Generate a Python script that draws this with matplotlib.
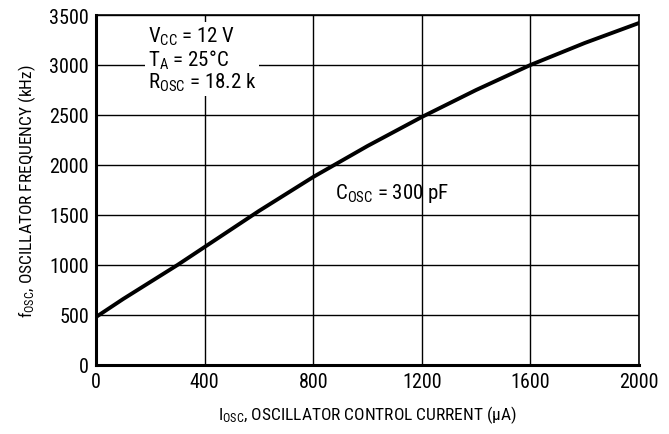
import matplotlib.pyplot as plt
from matplotlib import font_manager

# data
i_osc = [0, 100, 200, 300, 400, 600, 800, 1000, 1200, 1400, 1600, 1800, 2000]
f_osc = [480, 660, 830, 1000, 1180, 1540, 1880, 2190, 2480, 2750, 3000, 3220, 3420]
x_ticks = [0, 400, 800, 1200, 1600, 2000]
y_ticks = [0, 500, 1000, 1500, 2000, 2500, 3000, 3500]

names = {f.name for f in font_manager.fontManager.ttflist}
fam = 'Liberation Sans'
for cand in ['Liberation Sans Narrow', 'Roboto Condensed', 'Arial Narrow']:
    if cand in names:
        fam = cand
        break
plt.rcParams['font.family'] = [fam, 'DejaVu Sans']
plt.rcParams['mathtext.fontset'] = 'custom'
plt.rcParams['mathtext.rm'] = fam

fig = plt.figure(figsize=(6.69, 4.35), dpi=100)
ax = fig.add_axes([96 / 669, 69 / 435, 543 / 669, 350 / 435])

ax.plot(i_osc, f_osc, color='black', lw=2.8, zorder=3)

ax.set_xlim(0, 2000)
ax.set_ylim(0, 3500)
ax.set_xticks(x_ticks)
ax.set_yticks(y_ticks)
ax.grid(True, color='black', lw=1.0)
ax.tick_params(length=0, labelsize=14.5, pad=5)
for s in ax.spines.values():
    s.set_linewidth(1.2)
ax.spines['left'].set_linewidth(2.2)
ax.spines['bottom'].set_linewidth(2.2)

ax.text(190, 3060, '$\\mathrm{V_{CC}}$ = 12 V\n$\\mathrm{T_A}$ = 25°C\n$\\mathrm{R_{OSC}}$ = 18.2 k',
        fontsize=15, va='center', ha='left', linespacing=1.0, zorder=4,
        bbox=dict(facecolor='white', edgecolor='none', pad=2))
ax.text(880, 1720, '$\\mathrm{C_{OSC}}$ = 300 pF', fontsize=15, va='center', ha='left',
        zorder=4)

ax.set_xlabel('$\\mathrm{I_{OSC}}$, OSCILLATOR CONTROL CURRENT (µA)', fontsize=12.5, labelpad=9)
ax.set_ylabel('$\\mathrm{f_{OSC}}$, OSCILLATOR FREQUENCY (kHz)', fontsize=12.5, labelpad=8)

fig.savefig('out.png', dpi=100)
